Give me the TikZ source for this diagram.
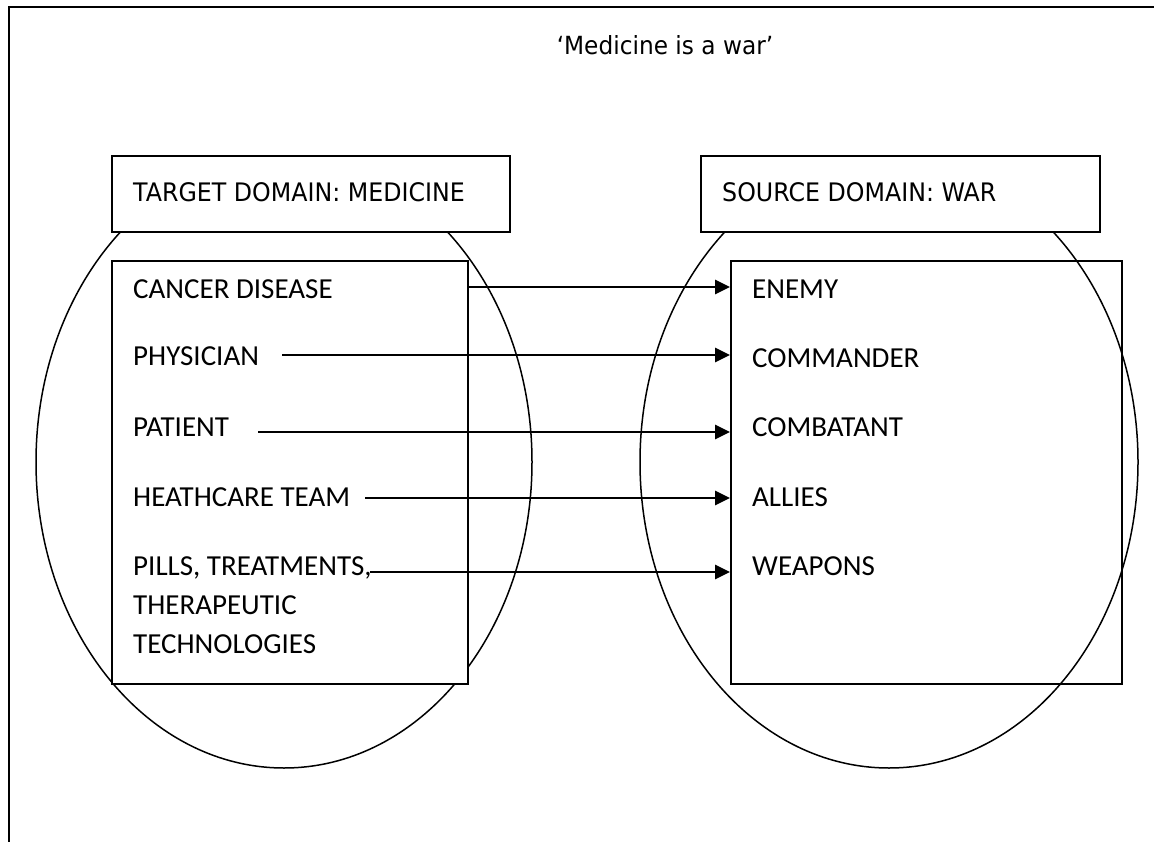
\documentclass[tikz,border=0pt]{standalone}
\usepackage{fontspec}
\setmainfont{Carlito}
\newfontfamily\verd[FakeStretch=0.93]{DejaVu Sans}
\usetikzlibrary{shapes.geometric,arrows.meta}
\begin{document}
\begin{tikzpicture}[x=1pt,y=-1pt,
  frame/.style={line width=2pt},
  oval/.style={ellipse,draw,line width=1.5pt,inner sep=0pt},
  box/.style={draw,line width=1.8pt,inner sep=0pt},
  item/.style={anchor=base west,inner sep=0pt,font=\fontsize{29}{34}\selectfont},
  head/.style={anchor=base west,inner sep=0pt,font=\verd\fontsize{25.5}{30}\selectfont},
  arr/.style={line width=2.3pt,-{Triangle[length=15pt,width=14pt]}}]
\useasboundingbox (0,0) rectangle (1154,842);
\fill[white] (0,0) rectangle (1154,842);
% frame
\draw[frame] (9,842) -- (9,7) -- (1154,7);
% title
\node[anchor=base,inner sep=0pt,font=\verd\fontsize{25}{30}\selectfont] (title) at (665,55) {‘Medicine is a war’};
% ellipses
\node[oval,minimum width=496pt,minimum height=612pt] (lov) at (284,462) {};
\node[oval,minimum width=498pt,minimum height=612pt] (rov) at (889,462) {};
% header boxes
\node[box,fill=white,minimum width=398pt,minimum height=76pt] (lhead) at (311,194) {};
\node[box,fill=white,minimum width=399pt,minimum height=76pt] (rhead) at (900.5,194) {};
\node[head] (lht) at (133,202) {TARGET DOMAIN: MEDICINE};
\node[head] (rht) at (722,202) {SOURCE DOMAIN: WAR};
% inner boxes
\node[box,fill=white,minimum width=356pt,minimum height=423pt] (lin) at (290,472.5) {};
\node[box,minimum width=391pt,minimum height=423pt] (rin) at (926.5,472.5) {};
% left items
\node[item] (l1) at (133,299) {CANCER DISEASE};
\node[item] (l2) at (133,366) {PHYSICIAN};
\node[item] (l3) at (133,436) {PATIENT};
\node[item] (l4) at (133,506) {HEATHCARE TEAM};
\node[item] (l5) at (133,575) {PILLS, TREATMENTS,};
\node[item] (l6) at (133,614) {THERAPEUTIC};
\node[item] (l7) at (133,653) {TECHNOLOGIES};
% right items
\node[item] (r1) at (752,299) {ENEMY};
\node[item] (r2) at (752,367) {COMMANDER};
\node[item] (r3) at (752,436) {COMBATANT};
\node[item] (r4) at (752,506) {ALLIES};
\node[item] (r5) at (752,575) {WEAPONS};
% arrow starts
\coordinate (a1) at (468,287);
\coordinate (a2) at (282,355);
\coordinate (a3) at (258,432);
\coordinate (a4) at (365,498);
\coordinate (a5) at (370,572);
\draw[arr] (a1) -- (a1 -| rin.west);
\draw[arr] (a2) -- (a2 -| rin.west);
\draw[arr] (a3) -- (a3 -| rin.west);
\draw[arr] (a4) -- (a4 -| rin.west);
\draw[arr] (a5) -- (a5 -| rin.west);
\end{tikzpicture}
\end{document}
